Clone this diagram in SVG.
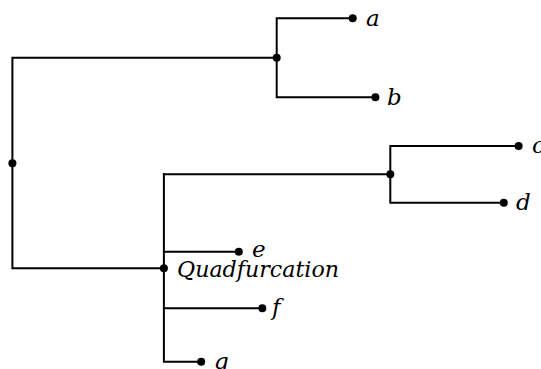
<svg xmlns="http://www.w3.org/2000/svg" width="541" height="369" viewBox="0 0 541 369">
<style>
.e{fill:none;stroke:#000;stroke-width:2;stroke-linecap:square;stroke-linejoin:miter}
.d{fill:#000}
</style>
<rect width="541" height="369" fill="#fff"/>
<g id="connectors">
<path class="e" d="M276.7,18.3 H352.7 M276.7,18.3 V97.3 H375.4 M12.4,57.7 H276.7 M12.4,57.7 V268.3 H163.9"/>
<path class="e" d="M163.9,174.3 H390.3 M390.3,146 H518.6 M390.3,146 V202.7 H503.8"/>
<path class="e" d="M163.9,174.3 V361.7 H201.2 M163.9,251.7 H238.8 M163.9,308.3 H262.3"/>
</g>
<g font-family="'DejaVu Serif', serif" font-style="italic" font-size="23" fill="#000">
<g id="root"><circle class="d" cx="12.4" cy="163.3" r="4"/></g>
<g id="ab"><circle class="d" cx="276.7" cy="57.7" r="4"/></g>
<g id="a"><circle class="d" cx="352.7" cy="18.3" r="4"/><text x="366" y="26">a</text></g>
<g id="b"><circle class="d" cx="375.4" cy="97.3" r="4"/><text x="387" y="105">b</text></g>
<g id="cd"><circle class="d" cx="390.3" cy="174.3" r="4"/></g>
<g id="c"><circle class="d" cx="518.6" cy="146" r="4"/><text x="532" y="153">c</text></g>
<g id="d"><circle class="d" cx="503.8" cy="202.7" r="4"/><text x="516" y="210">d</text></g>
<g id="quad"><circle class="d" cx="163.9" cy="268.3" r="4"/><text x="177" y="276.5" textLength="162" lengthAdjust="spacingAndGlyphs">Quadfurcation</text></g>
<g id="e"><circle class="d" cx="238.8" cy="251.7" r="4"/><text x="252" y="257">e</text></g>
<g id="f"><circle class="d" cx="262.3" cy="308.3" r="4"/><text x="272" y="315">f</text></g>
<g id="g"><circle class="d" cx="201.2" cy="361.7" r="4"/><text x="214" y="369">g</text></g>
</g>
</svg>
